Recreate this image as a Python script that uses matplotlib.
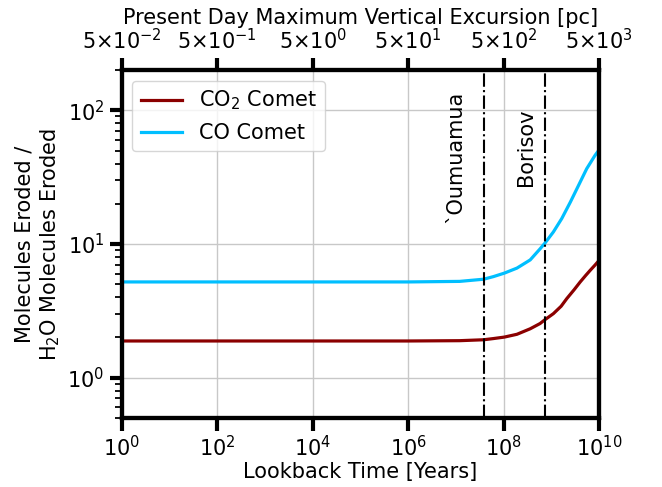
import matplotlib
matplotlib.use("Agg")
import matplotlib.pyplot as plt
from matplotlib.ticker import NullLocator, FixedLocator

# lookback time [yr] and ratio of molecules eroded
t_co2 = [1e0, 1e3, 1e6, 1.2e7, 3.8e7, 6.1e7, 1.03e8, 1.9e8, 3.6e8, 5.8e8, 7.4e8,
         1.1e9, 1.6e9, 2.1e9, 3.0e9, 4.0e9, 5.2e9, 6.5e9, 8.2e9, 1e10]
co2 = [1.88, 1.88, 1.88, 1.89, 1.92, 1.96, 2.01, 2.11, 2.32, 2.54, 2.72,
       3.01, 3.42, 3.90, 4.55, 5.19, 5.80, 6.35, 6.95, 7.54]

t_co = [1e0, 1e3, 1e6, 1.2e7, 3.8e7, 6.1e7, 1.03e8, 1.9e8, 3.6e8, 5.8e8, 7.4e8,
        1.1e9, 1.65e9, 2.5e9, 3.7e9, 5.5e9, 8.2e9, 1e10]
co = [5.2, 5.2, 5.2, 5.25, 5.45, 5.7, 6.05, 6.6, 7.6, 9.2, 10.2,
      12.3, 15.5, 20.6, 27.4, 36.6, 46.0, 50.7]

oumuamua_t = 3.8e7
borisov_t = 7.2e8

top_ticks = [1e0, 1e2, 1e4, 1e6, 1e8, 1e10]
top_labels = [r'$5{\times}10^{-2}$', r'$5{\times}10^{-1}$', r'$5{\times}10^{0}$',
              r'$5{\times}10^{1}$', r'$5{\times}10^{2}$', r'$5{\times}10^{3}$']

plt.rcParams['font.size'] = 15

fig = plt.figure(figsize=(6.62, 4.87), dpi=100)
ax = fig.add_axes([0.184, 0.142, 0.721, 0.714])

ax.plot(t_co2, co2, color='#8b0000', lw=2.3, label=r'CO$_2$ Comet')
ax.plot(t_co, co, color='#00bfff', lw=2.3, label='CO Comet')
ax.axvline(oumuamua_t, color='k', ls='-.', lw=1.5)
ax.axvline(borisov_t, color='k', ls='-.', lw=1.5)

ax.set_xscale('log')
ax.set_yscale('log')
ax.set_xlim(1e0, 1e10)
ax.set_ylim(0.5, 200)
ax.xaxis.set_minor_locator(NullLocator())
ax.grid(True, which='major', color='#c8c8c8', lw=1)

ax.text(9.5e6, 45, '`Oumuamua', rotation=90, ha='center', va='center', fontsize=15)
ax.text(2.9e8, 53, 'Borisov', rotation=90, ha='center', va='center', fontsize=15)

ax.set_xlabel('Lookback Time [Years]', fontsize=15, labelpad=1)
ax.set_ylabel('Molecules Eroded /\nH$_2$O Molecules Eroded', fontsize=15, labelpad=4)

for s in ax.spines.values():
    s.set_linewidth(3)
ax.tick_params(which='major', length=9, width=3, labelsize=15, direction='out')
ax.tick_params(which='minor', length=5, width=1.3, direction='out')

ax.legend(loc='upper left', fontsize=15, handlelength=2, frameon=True)

ax2 = ax.twiny()
ax2.set_xscale('log')
ax2.set_xlim(ax.get_xlim())
ax2.xaxis.set_major_locator(FixedLocator(top_ticks))
ax2.xaxis.set_minor_locator(NullLocator())
ax2.set_xticklabels(top_labels)
ax2.tick_params(which='major', length=9, width=3, labelsize=15, direction='out', pad=3)
ax2.set_xlabel('Present Day Maximum Vertical Excursion [pc]', fontsize=15, labelpad=3)
for s in ax2.spines.values():
    s.set_linewidth(3)

fig.savefig('out.png', dpi=100)
